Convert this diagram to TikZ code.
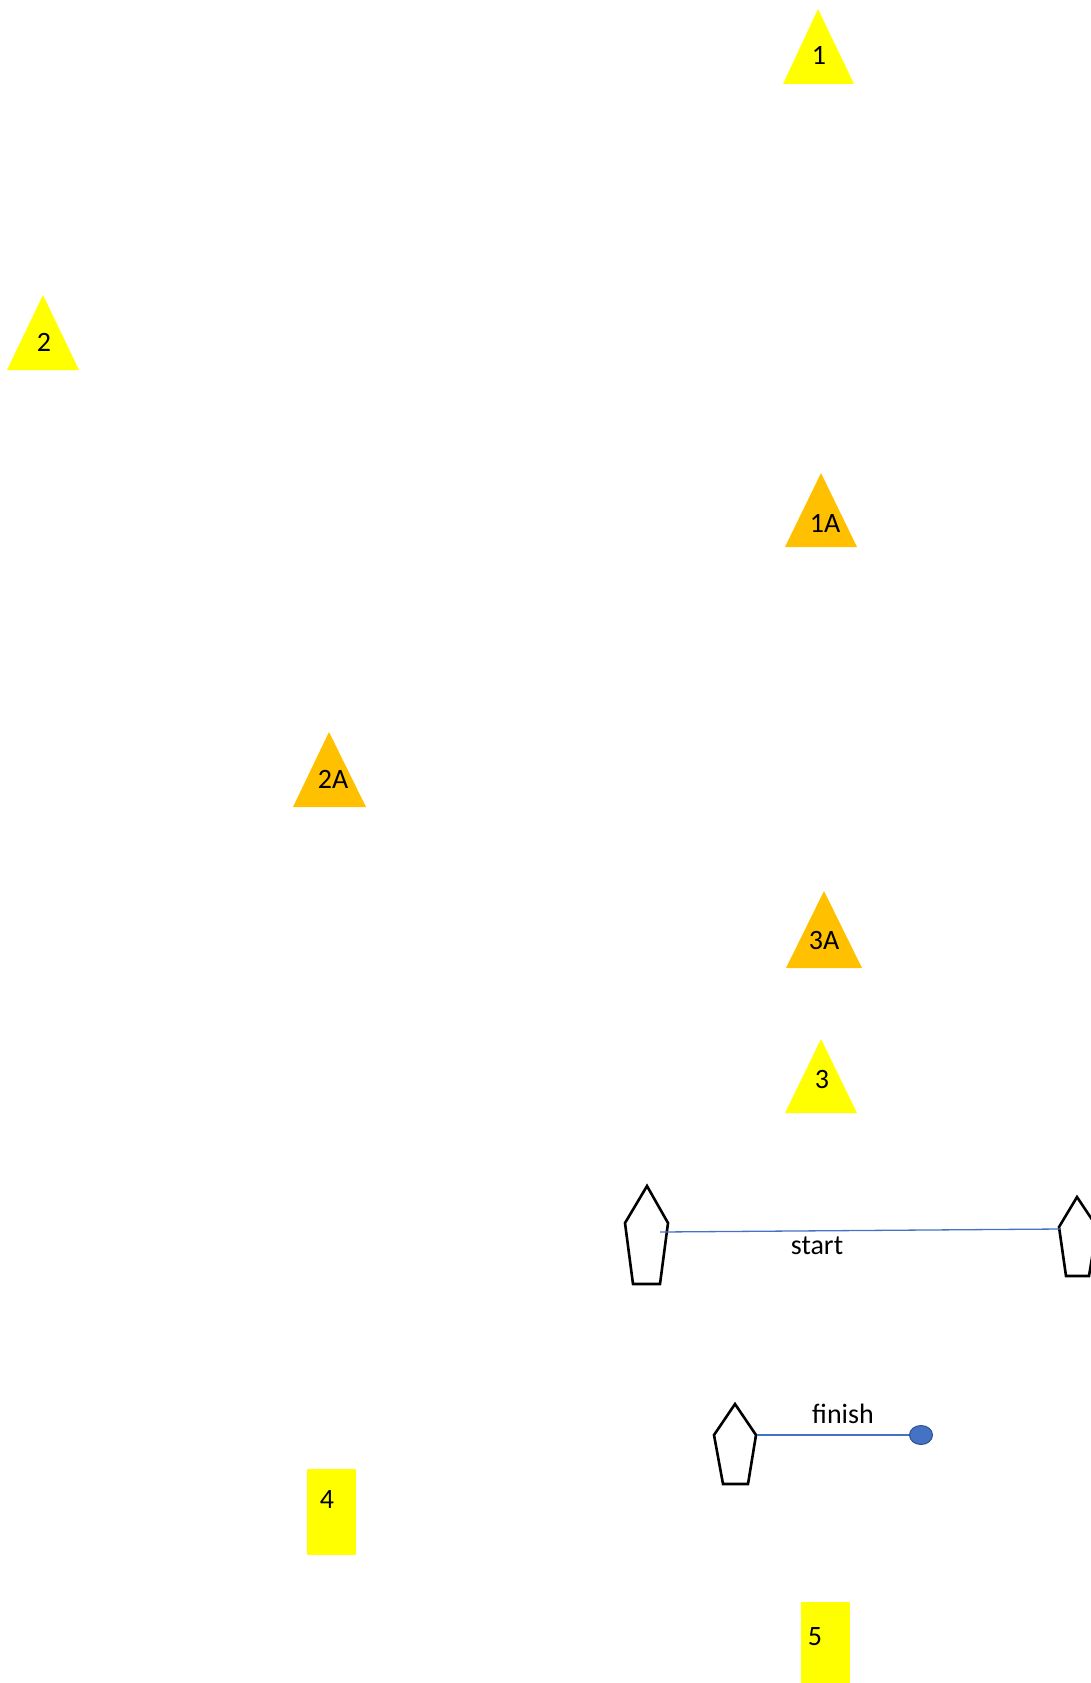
\documentclass[tikz,border=0pt]{standalone}
\usepackage{fontspec}
\setmainfont{Carlito}
\usetikzlibrary{shapes.geometric}
\definecolor{markyellow}{HTML}{FFFF00}
\definecolor{markorange}{HTML}{FFC000}
\definecolor{lineblue}{HTML}{4472C4}
\definecolor{darkblue}{HTML}{2F528F}
\tikzset{
  lbl/.style={inner sep=0pt, font=\fontsize{28}{32}\selectfont},
  buoy/.style={draw=black, line width=2.6pt, line join=miter, fill=white},
  startline/.style={draw=lineblue, line width=1.3pt},
}
\begin{document}
\begin{tikzpicture}[x=1pt,y=-1pt]
\useasboundingbox (0,0) rectangle (1090,1683);
% triangles
\fill[markyellow] (818,9) -- (854,84) -- (783,84) -- cycle;
\node[lbl] (m1) at (819,55) {1};
\fill[markyellow] (43,295) -- (79,370) -- (7,370) -- cycle;
\node[lbl] (m2) at (44,342) {2};
\fill[markorange] (821,473) -- (857,547) -- (785,547) -- cycle;
\node[lbl] (m1a) at (825,523) {1A};
\fill[markorange] (329,732) -- (366,807) -- (293,807) -- cycle;
\node[lbl] (m2a) at (333,779) {2A};
\fill[markorange] (824,891) -- (862,968) -- (786,968) -- cycle;
\node[lbl] (m3a) at (824,940) {3A};
\fill[markyellow] (821,1039) -- (857,1113) -- (785,1113) -- cycle;
\node[lbl] (m3) at (822,1079) {3};
% boxes
\fill[markyellow] (307,1469) rectangle (356,1555);
\node[lbl] (m4) at (327,1499) {4};
\fill[markyellow] (801,1602) rectangle (850,1683);
\node[lbl] (m5) at (815,1637) {5};
% start buoys
\draw[buoy] (647,1186) -- (668,1223) -- (660,1284) -- (633,1284) -- (625,1223) -- cycle;
\draw[buoy] (1077,1197) -- (1097,1227) -- (1089,1276) -- (1066,1276) -- (1059,1227) -- cycle;
\coordinate (sl) at (660,1232);
\coordinate (sr) at (1060,1229);
\draw[startline] (sl) -- (sr);
\node[lbl] (start) at (817,1246) {start};
% finish
\draw[buoy] (735,1404) -- (756,1435) -- (748,1484) -- (723,1484) -- (714,1435) -- cycle;
\coordinate (fl) at (757,1435);
\node[draw=darkblue, fill=lineblue, line width=1pt, ellipse, minimum width=23pt, minimum height=19pt, inner sep=0pt] (fb) at (921,1435) {};
\draw[startline] (fl) -- (fb.west);
\node[lbl] (finish) at (843,1414) {finish};
\end{tikzpicture}
\end{document}
